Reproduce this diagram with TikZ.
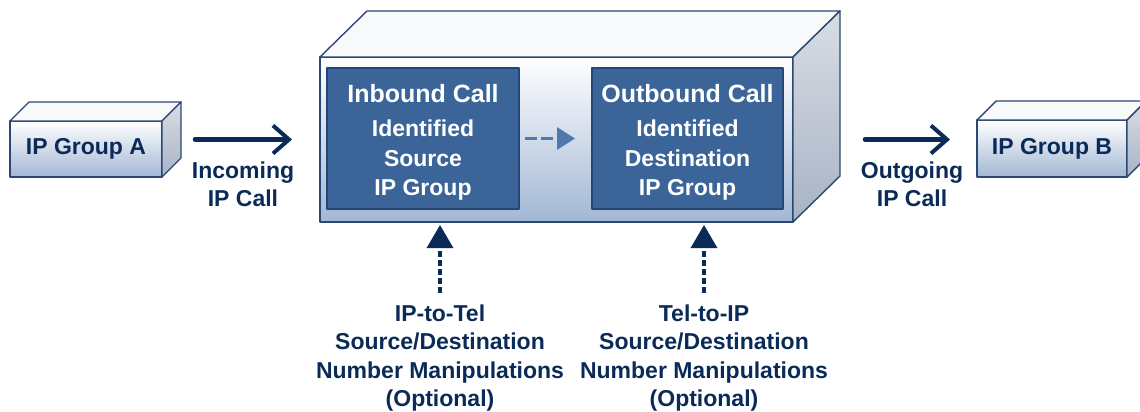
\documentclass[tikz,border=0pt]{standalone}
\usepackage{fontspec}
\setmainfont{Liberation Sans}
\usetikzlibrary{calc,arrows.meta}

\definecolor{callNavy}{HTML}{0A2A58}
\definecolor{boxLine}{HTML}{2A4872}
\definecolor{frontBot}{HTML}{A2B7D4}
\definecolor{sideTop}{HTML}{DADDE3}
\definecolor{sideBot}{HTML}{A7B3C6}
\definecolor{topFace}{HTML}{F8F9FB}
\definecolor{callFill}{HTML}{3B6498}
\definecolor{callLine}{HTML}{23467A}
\definecolor{dashBlue}{HTML}{4E78AE}

\begin{document}
\begin{tikzpicture}[x=1pt, y=-1pt, line cap=round, line join=round,
  font=\bfseries\fontsize{23}{28.5}\selectfont, text=callNavy]

% ---------------- styles ----------------
\tikzset{
  grpFront/.style  ={draw=boxLine, line width=1.4pt, top color=white, bottom color=frontBot, outer sep=0pt, inner sep=0pt},
  grpTop/.style    ={draw=boxLine, line width=1.4pt, fill=topFace},
  grpSide/.style   ={draw=boxLine, line width=1.4pt, top color=sideTop, bottom color=sideBot},
  callBox/.style   ={draw=callLine, line width=1.2pt, fill=callFill, text=white, align=center, outer sep=0pt,
                     font=\bfseries\fontsize{23}{29.5}\selectfont},
  noteText/.style  ={align=center, inner sep=0pt},
  flowArrow/.style ={draw=callNavy, line width=4.5pt, -{Straight Barb[length=16pt, width=28pt, line width=4pt]}},
  hintArrow/.style ={draw=dashBlue, line width=3pt, line cap=butt, dash pattern=on 12pt off 4pt, -{Triangle[length=18pt, width=22pt]}},
  manipArrow/.style={draw=callNavy, line width=3.2pt, line cap=butt, dash pattern=on 6pt off 3pt, -{Triangle[length=23pt, width=26pt]}}
}

% ---------------- parameters ----------------
\def\Dx{19}   % group box depth (right)
\def\Dy{19}   % group box depth (up)
\def\MDx{47}  % main box depth (right)
\def\MDy{46}  % main box depth (up)

% helper: top and side faces behind a front node
\newcommand{\CubeFaces}[3]{%
  % top face
  \path[grpTop] (#1.north west) -- ++(#2,-#3) -- ($(#1.north east)+(#2,-#3)$) -- (#1.north east) -- cycle;
  % side face
  \path[grpSide] (#1.north east) -- ++(#2,-#3) -- ($(#1.south east)+(#2,-#3)$) -- (#1.south east) -- cycle;
}

\useasboundingbox (0,0) rectangle (1140,412);

% ---------------- IP groups ----------------
\node[grpFront, minimum width=152pt, minimum height=56pt] (grpA) at (86,149) {IP Group A};
\CubeFaces{grpA}{\Dx}{\Dy}
\node[grpFront, minimum width=150pt, minimum height=57pt] (grpB) at (1052,148.5) {IP Group B};
\CubeFaces{grpB}{\Dx}{\Dy}

% ---------------- main box ----------------
\node[grpFront, minimum width=473pt, minimum height=165pt] (sbc) at (556.5,139.5) {};
\CubeFaces{sbc}{\MDx}{\MDy}

\node[callBox, minimum width=192pt, minimum height=141pt] (inbound) at (423,138.5)
  {\rule{0pt}{26pt}{\fontsize{25}{29.5}\selectfont Inbound Call}\\[5pt]Identified\\Source\\IP Group};
\node[callBox, minimum width=191pt, minimum height=141pt] (outbound) at (687.5,138.5)
  {\rule{0pt}{26pt}{\fontsize{25}{29.5}\selectfont Outbound Call}\\[5pt]Identified\\Destination\\IP Group};

\draw[hintArrow, shorten <=6pt, shorten >=17pt] (inbound) -- (outbound);

% ---------------- calls in and out ----------------
\draw[flowArrow, shorten <=33pt, shorten >=28pt] (grpA.east |- sbc.west) -- (sbc.west);
\node[noteText, anchor=north] (incoming) at (243,161.5) {Incoming\\IP Call};

\draw[flowArrow, shorten <=72pt, shorten >=27pt] (sbc.east) -- (grpB.west |- sbc.east);
\node[noteText, anchor=north] (outgoing) at (912,161.5) {Outgoing\\IP Call};

% ---------------- number manipulations ----------------
\node[noteText, anchor=north] (ipTel) at (440,304.5) {IP-to-Tel\\Source/Destination\\Number Manipulations\\(Optional)};
\node[noteText, anchor=north] (telIp) at (704,304.5) {Tel-to-IP\\Source/Destination\\Number Manipulations\\(Optional)};

\draw[manipArrow, shorten <=11.5pt, shorten >=3pt] (ipTel.north) -- (ipTel.north |- sbc.south);
\draw[manipArrow, shorten <=11.5pt, shorten >=3pt] (telIp.north) -- (telIp.north |- sbc.south);

\end{tikzpicture}
\end{document}
